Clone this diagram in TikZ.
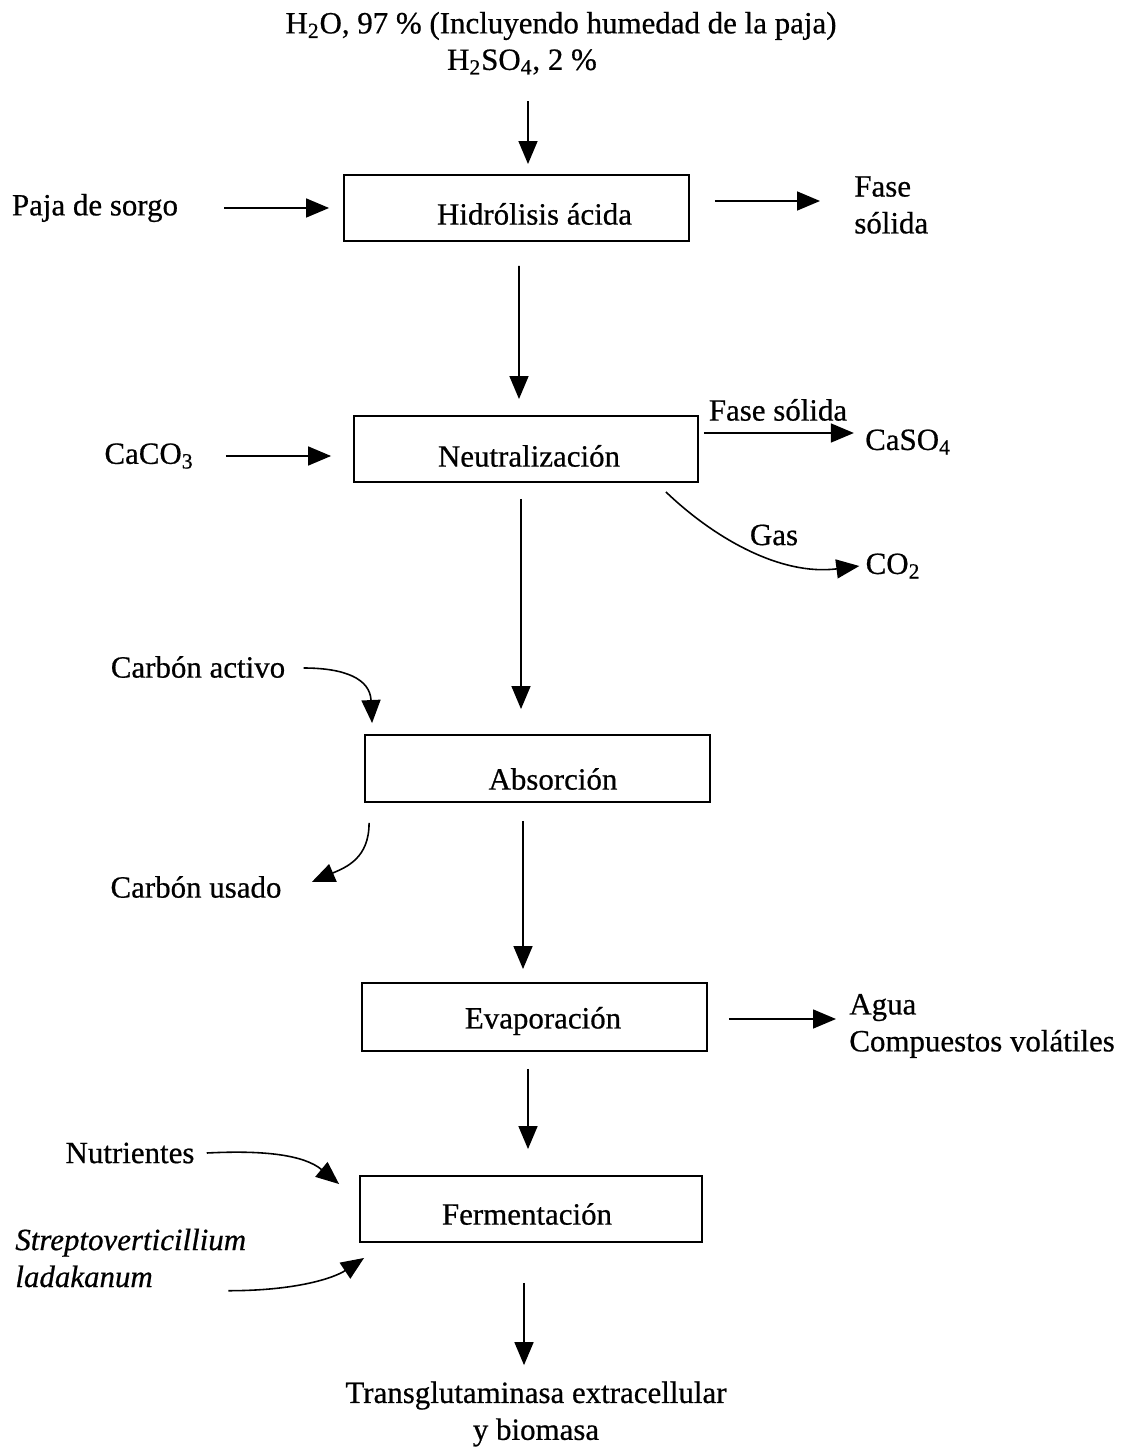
\documentclass[tikz,border=0pt]{standalone}
\usepackage{fontspec}
\setmainfont{Liberation Serif}[FakeBold=0.6]
\usetikzlibrary{arrows.meta,calc}
\begin{document}
\begin{tikzpicture}[x=0.02cm,y=-0.02cm,
  basefont/.style={font=\fontsize{17.6}{21}\selectfont},
  lbl/.style={basefont,inner sep=0pt},
  proc/.style={draw,line width=1.1pt,inner sep=0pt,minimum width=6.9cm,minimum height=1.32cm},
  arr/.style={line width=0.9pt,-{Triangle[length=0.46cm,width=0.38cm]}}]
\useasboundingbox (0,0) rectangle (1125,1452);

% process boxes
\node[proc] (hid) at (516.5,208) {};
\node[proc,minimum width=6.88cm] (neu) at (526,449) {};
\node[proc,minimum height=1.34cm] (abs) at (537.5,768.5) {};
\node[proc,minimum height=1.36cm] (eva) at (534.5,1017) {};
\node[proc,minimum width=6.84cm] (fer) at (531,1209) {};

% box texts
\node[lbl] (hidt) at (534.5,214) {Hidrólisis ácida};
\node[lbl] (neut) at (529,456) {Neutralización};
\node[lbl] (abst) at (553,779) {Absorción};
\node[lbl] (evat) at (543,1021) {Evaporación};
\node[lbl] (fert) at (527,1214) {Fermentación};

% labels
\node[lbl] (top1) at (561,26) {H\textsubscript{2}O, 97 \% (Incluyendo humedad de la paja)};
\node[lbl] (top2) at (522,62) {H\textsubscript{2}SO\textsubscript{4}, 2 \%};
\node[lbl] (paja) at (95,208) {Paja de sorgo};
\node[lbl,anchor=west,align=left] (fase1) at (854,205) {Fase\\sólida};
\node[lbl] (caco3) at (149,456) {CaCO\textsubscript{3}};
\node[lbl] (fsol) at (778,410) {Fase sólida};
\node[lbl] (caso4) at (908,442) {CaSO\textsubscript{4}};
\node[lbl] (gas) at (774,535) {Gas};
\node[lbl] (co2) at (893,566) {CO\textsubscript{2}};
\node[lbl] (cact) at (198,667) {Carbón activo};
\node[lbl] (cusado) at (196,887) {Carbón usado};
\node[lbl,anchor=west,align=left] (agua) at (849,1026) {Agua\\Compuestos volátiles};
\node[lbl] (nutr) at (130,1153) {Nutrientes};
\node[lbl,anchor=west,align=left,font=\fontsize{17.6}{21}\selectfont\itshape] (strep) at (15,1258) {Streptoverticillium\\ladakanum};
\node[lbl,align=center] (prod) at (536,1414) {Transglutaminasa extracellular\\y biomasa};

% straight connectors
\draw[arr] ($(top2.south)+(6,26)$) -- ($(hid.north)+(11.5,-10)$);
\draw[arr] ($(paja.east)+(46,0)$) -- ($(hid.west)+(-14,0)$);
\draw[arr] ($(hid.east)+(25,-7)$) -- ($(fase1.west)+(-34,-4)$);
\draw[arr] ($(hid.south)+(2.5,24)$) -- ($(neu.north)+(-7,-16)$);
\draw[arr] ($(caco3.east)+(32,0)$) -- ($(neu.west)+(-22,7)$);
\draw[arr] ($(neu.east)+(5,-16)$) -- ($(caso4.west)+(-11,-9)$);
\draw[arr] ($(neu.south)+(-5,16)$) -- ($(abs.north)+(-16.5,-25)$);
\draw[arr] ($(abs.south)+(-14.5,18)$) -- ($(eva.north)+(-11.5,-13)$);
\draw[arr] ($(eva.east)+(21,2)$) -- ($(agua.west)+(-13,-7)$);
\draw[arr] ($(eva.south)+(-6.5,17)$) -- ($(fer.north)+(-3,-26)$);
\draw[arr] ($(fer.south)+(-7,40)$) -- ($(prod.north)+(-12,-16)$);

% curved connectors
\draw[arr] ($(neu.south east)+(-33,9)$) .. controls ($(neu.south east)+(15,55)$) and ($(co2.west)+(-85,10)$) .. ($(co2.west)+(-6,0)$);
\draw[arr] ($(cact.east)+(18,1)$) .. controls ($(cact.east)+(60,1)$) and ($(abs.north west)+(6,-55)$) .. ($(abs.north west)+(8,-11)$);
\draw[arr] ($(abs.south west)+(5,20)$) .. controls ($(abs.south west)+(5,55)$) and ($(cusado.east)+(65,-20)$) .. ($(cusado.east)+(30,-5)$);
\draw[arr] ($(nutr.east)+(12,0)$) .. controls ($(nutr.east)+(70,-3)$) and ($(fer.north west)+(-55,-20)$) .. ($(fer.north west)+(-20,9)$);
\draw[arr] ($(strep.south east)+(-18,3)$) .. controls ($(strep.south east)+(50,3)$) and ($(fer.south west)+(-25,35)$) .. ($(fer.south west)+(5,15)$);
\end{tikzpicture}
\end{document}
